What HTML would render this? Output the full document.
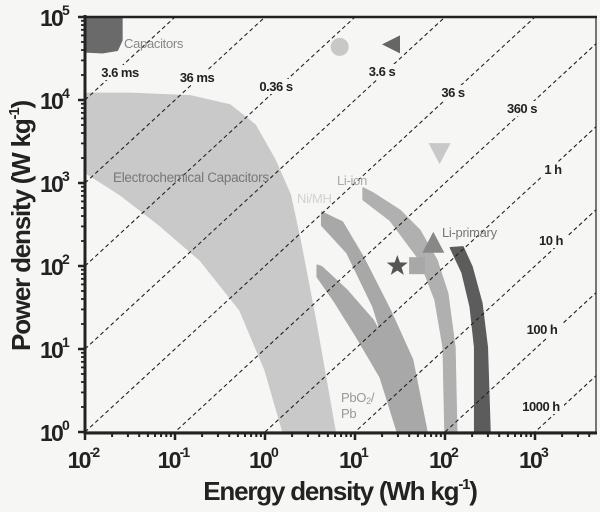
<!DOCTYPE html>
<html><head><meta charset="utf-8"><style>
html,body{margin:0;background:#f6f6f4;width:600px;height:512px;overflow:hidden;}
svg{display:block;font-family:"Liberation Sans",sans-serif;}
</style></head><body>
<svg id="c" width="600" height="512" viewBox="0 0 600 512">
<rect width="600" height="512" fill="#f6f6f4"/>
<defs><clipPath id="pc"><rect x="85" y="17" width="511" height="415"/></clipPath></defs>
<g id="regions" clip-path="url(#pc)"></g>
<g id="diag" clip-path="url(#pc)"></g>
<g id="labels"></g>
<g id="marks"></g>
<g id="axes"></g>
</svg>
<script>
// data in log10 units: [log10 E (Wh/kg), log10 P (W/kg)]
const capacitors=[[-2,5],[-1.59,5],[-1.59,4.72],[-1.64,4.6],[-1.8,4.57],[-2,4.58]];
const ecCapacitors=[[-2,4.08],[-1.5,4.08],[-0.83,4.05],[-0.39,3.94],[-0.11,3.7],[0.11,3.28],[0.28,2.86],[0.39,2.31],[0.56,1.35],[0.78,0],[0.2,0],[0,0.75],[-0.28,1.47],[-0.72,2.07],[-1.17,2.49],[-1.61,2.86],[-2,3.13]];
const pbo2=[[0.58,2.01],[0.63,1.99],[0.91,1.71],[1.2,1.35],[1.5,0.78],[1.78,0],[1.47,0],[1.28,0.66],[1.02,1.14],[0.76,1.59],[0.58,1.87]];
const nimh=[[0.63,2.65],[0.86,2.53],[1.09,2.11],[1.39,1.47],[1.64,0.87],[1.8,0],[1.5,0],[1.41,0.78],[1.2,1.51],[0.91,2.16],[0.63,2.49]];
const liion=[[1.09,2.94],[1.2,2.88],[1.5,2.67],[1.72,2.43],[1.91,2.07],[2.03,1.67],[2.11,1.02],[2.13,0],[2.0,0],[1.98,1.02],[1.89,1.59],[1.72,2.07],[1.39,2.55],[1.09,2.8]];
const liprimary=[[2.06,2.22],[2.2,2.23],[2.3,1.99],[2.41,1.55],[2.47,1.02],[2.5,0],[2.33,0],[2.33,1.02],[2.28,1.51],[2.19,1.92]];
const timeHours=[1e-6,1e-5,1e-4,1e-3,1e-2,0.1,1,10,100,1000];
const timeLabels=["3.6 ms","36 ms","0.36 s","3.6 s","36 s","360 s","1 h","10 h","100 h","1000 h"];
const xTicks=[-2,-1,0,1,2,3];
const yTicks=[0,1,2,3,4,5];
const ns="http://www.w3.org/2000/svg";
const X0=85,XD=90,Y0=432,YD=83;
function sx(l){return X0+(l+2)*XD;}
function sy(l){return Y0-l*YD;}
function mk(tag,attrs,parent){const e=document.createElementNS(ns,tag);for(const k in attrs)e.setAttribute(k,attrs[k]);parent.appendChild(e);return e;}
const R=document.getElementById('regions');
function poly(d,fill,name){const p=mk('polygon',{points:d.map(q=>sx(q[0])+','+sy(q[1])).join(' '),fill:fill,stroke:fill,'stroke-width':1.5,'stroke-linejoin':'round'},R);

}
poly(capacitors,'#6a6a6a','capacitors-region');
poly(ecCapacitors,'#c9c9c9','electrochemical-capacitors-region');
poly(pbo2,'#a8a8a8','pbo2-pb-region');
poly(nimh,'#a8a8a8','nimh-region');
poly(liion,'#b0b0b0','li-ion-region');
poly(liprimary,'#5c5c5c','li-primary-region');
const D=document.getElementById('diag');
timeHours.forEach((t,i)=>{const lt=Math.log10(t);const x1=-2,x2=4;
const l=mk('line',{x1:sx(x1),y1:sy(x1-lt),x2:sx(x2),y2:sy(x2-lt),stroke:'#222','stroke-width':1.1,'stroke-dasharray':'4,3'},D);

});
const L=document.getElementById('labels');
const tl=[[120,77],[197,82],[276,91],[382,76],[453,97],[522,113],[553,174],[551,245],[542,334],[541,411]];
timeLabels.forEach((s,i)=>{const w=s.length*7+4;
mk('rect',{x:tl[i][0]-w/2,y:tl[i][1]-12,width:w,height:15,fill:'#f6f6f4'},L);
const t=mk('text',{x:tl[i][0],y:tl[i][1],'text-anchor':'middle','font-size':13,'font-weight':'bold',fill:'#222','letter-spacing':-0.5},L);
t.textContent=s;

});
function lab(x,y,s,c,name,fs){const t=mk('text',{x:x,y:y,'font-size':fs||13,fill:c,'letter-spacing':-0.3},L);t.innerHTML=s;

}
lab(124,48,'Capacitors','#888','capacitors-label');
lab(113,182,'Electrochemical Capacitors','#777','ec-label',13.5);
lab(297,203,'Ni/MH','#d2d2d2','nimh-label');
lab(337,185,'Li-ion','#a8a8a8','li-ion-label');
lab(442,237,'Li-primary','#777','li-primary-label');
lab(341,402,'PbO<tspan font-size="9" dy="2">2</tspan><tspan dy="-2">/</tspan>','#999','pbo2-label');
lab(341,418,'Pb','#999','pb-label');
const M=document.getElementById('marks');
const star=[1.47,2.0],square=[1.69,2.01],tri=[1.87,2.28],circ=[0.83,4.64],ltri=[1.4,4.67],itri=[1.94,3.36];
function pm(pts,fill,name){const p=mk('polygon',{points:pts,fill:fill},M);

}
(function(){const cx=sx(star[0]),cy=sy(star[1]);let pts=[];for(let i=0;i<10;i++){const r=i%2?4.5:11,a=-Math.PI/2+i*Math.PI/5;pts.push((cx+r*Math.cos(a)).toFixed(1)+','+(cy+r*Math.sin(a)).toFixed(1));}pm(pts.join(' '),'#555','star-marker');})();
(function(){const cx=sx(square[0]),cy=sy(square[1]);const r=mk('rect',{x:cx-8,y:cy-8,width:16,height:17,fill:'#a8a8a8'},M);

})();
(function(){const cx=sx(tri[0]),cy=sy(tri[1]);pm(`${cx},${cy-11} ${cx+11},${cy+10} ${cx-11},${cy+10}`,'#888','triangle-marker');})();
(function(){const c=mk('circle',{cx:sx(circ[0]),cy:sy(circ[1]),r:9,fill:'#c8c8c8'},M);

})();
(function(){const cx=sx(ltri[0]),cy=sy(ltri[1]);pm(`${cx-9},${cy} ${cx+9},${cy-9} ${cx+9},${cy+9}`,'#666','left-triangle-marker');})();
(function(){const cx=sx(itri[0]),cy=sy(itri[1]);pm(`${cx-11},${cy-10} ${cx+11},${cy-10} ${cx},${cy+11}`,'#c8c8c8','down-triangle-marker');})();
const A=document.getElementById('axes');
const fr=mk('path',{d:'M85,17 H596 V432 H85 Z',fill:'none',stroke:'#222','stroke-width':1.2},A);


const ax=mk('path',{d:'M85,15 V433 H597',fill:'none',stroke:'#222','stroke-width':3},A);


mk('line',{x1:84,y1:17,x2:597,y2:17,stroke:'#222','stroke-width':2.5},A);
for(let d=-2;d<=3;d++){for(let m=1;m<10;m++){const x=sx(d+Math.log10(m));if(x>596)break;mk('line',{x1:x,y1:433,x2:x,y2:m==1?440:437,stroke:'#222','stroke-width':m==1?2.5:2},A);}}
for(let d=0;d<5;d++){for(let m=1;m<10;m++){const y=sy(d+Math.log10(m));mk('line',{x1:85,y1:y,x2:m==1?78:81,y2:y,stroke:'#222','stroke-width':m==1?2.5:1.8},A);}}
mk('line',{x1:85,y1:17,x2:78,y2:17,stroke:'#222','stroke-width':2.5},A);
xTicks.forEach(v=>{const t=mk('text',{x:sx(v)-2,y:468,'text-anchor':'middle','font-size':23,'font-weight':'bold',fill:'#222','letter-spacing':-1.8},A);
t.innerHTML='10<tspan font-size="14" dy="-11">'+v+'</tspan>';

});
yTicks.forEach(v=>{const t=mk('text',{x:68,y:sy(v)+9,'text-anchor':'end','font-size':23,'font-weight':'bold',fill:'#222','letter-spacing':-1.8},A);
t.innerHTML='10<tspan font-size="14" dy="-11">'+v+'</tspan>';

});
const xt=mk('text',{x:340,y:500,'text-anchor':'middle','font-size':26,'font-weight':'bold',fill:'#222','letter-spacing':-1.2},A);
xt.innerHTML='Energy density (Wh kg<tspan font-size="15" dy="-11">-1</tspan><tspan dy="11">)</tspan>';


const yt=mk('text',{x:0,y:0,'text-anchor':'middle','font-size':26,'font-weight':'bold',fill:'#222','letter-spacing':-1.2,transform:'translate(30,226) rotate(-90)'},A);
yt.innerHTML='Power density (W kg<tspan font-size="15" dy="-11">-1</tspan><tspan dy="11">)</tspan>';


</script>
</body></html>
